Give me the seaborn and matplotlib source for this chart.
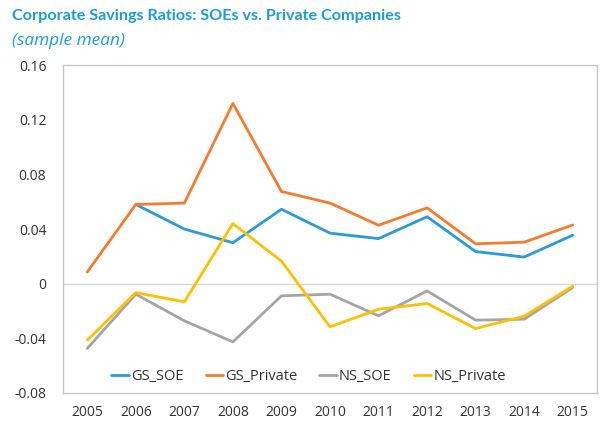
import numpy as np
import pandas as pd
import seaborn as sns
import matplotlib.pyplot as plt

years = [2005, 2006, 2007, 2008, 2009, 2010, 2011, 2012, 2013, 2014, 2015]
gs_soe = [np.nan, 0.058, 0.040, 0.030, 0.0545, 0.037, 0.033, 0.049, 0.0235, 0.0195, 0.0355]
gs_private = [0.0086, 0.058, 0.059, 0.132, 0.0675, 0.059, 0.0428, 0.0555, 0.0292, 0.0304, 0.043]
ns_soe = [-0.0474, -0.0077, -0.0272, -0.0426, -0.0089, -0.0077, -0.0235, -0.0053, -0.0267, -0.026, -0.0028]
ns_private = [-0.0413, -0.0065, -0.0133, 0.044, 0.0165, -0.0316, -0.0187, -0.0145, -0.0328, -0.0238, -0.0018]

series = ["GS_SOE", "GS_Private", "NS_SOE", "NS_Private"]
colors = ["#2B9BD8", "#F77B2E", "#A5A5A5", "#FFC000"]
yticks = [-0.08, -0.04, 0, 0.04, 0.08, 0.12, 0.16]
ytick_labels = ["-0.08", "-0.04", "0", "0.04", "0.08", "0.12", "0.16"]

df = pd.DataFrame({"year": years, "GS_SOE": gs_soe, "GS_Private": gs_private,
                   "NS_SOE": ns_soe, "NS_Private": ns_private})
long = df.melt(id_vars="year", var_name="series", value_name="ratio").dropna()
long["pos"] = long["year"].map({y: i for i, y in enumerate(years)})

sns.set_style("white")
plt.rcParams["font.family"] = ["Open Sans", "DejaVu Sans"]

fig = plt.figure(figsize=(6, 4.23), dpi=100)
ax = fig.add_axes([0.105, 0.071, 0.89, 0.775])

sns.lineplot(data=long, x="pos", y="ratio", hue="series", hue_order=series,
             palette=colors, linewidth=2, ax=ax)

ax.axhline(0, color="#D9D9D9", linewidth=1, zorder=0)
ax.set_xlim(-0.5, len(years) - 0.5)
ax.set_ylim(-0.08, 0.16)
ax.set_xticks(range(len(years)))
ax.set_xticklabels([str(y) for y in years])
ax.set_yticks(yticks)
ax.set_yticklabels(ytick_labels)
ax.tick_params(axis="both", length=0, labelsize=10, colors="#333333")
ax.tick_params(axis="x", pad=9)
ax.tick_params(axis="y", pad=12)
ax.set_xlabel("")
ax.set_ylabel("")
for s in ax.spines.values():
    s.set_color("#C8C8C8")
    s.set_linewidth(1)

ax.legend(loc="lower center", bbox_to_anchor=(0.46, -0.012), ncol=4, frameon=False,
          fontsize=10.5, handlelength=1.2, handletextpad=0.15, columnspacing=1.5,
          labelcolor="#333333")

fig.text(0.02, 0.962, "Corporate Savings Ratios: SOEs vs. Private Companies",
         fontsize=11.6, fontweight="bold", color="#1E9AD6", va="center",
         family=["Lato", "DejaVu Sans"])
fig.text(0.02, 0.903, "(sample mean)", fontsize=12.4, style="italic",
         color="#1E9AD6", va="center")

fig.savefig("out.png", dpi=100)
